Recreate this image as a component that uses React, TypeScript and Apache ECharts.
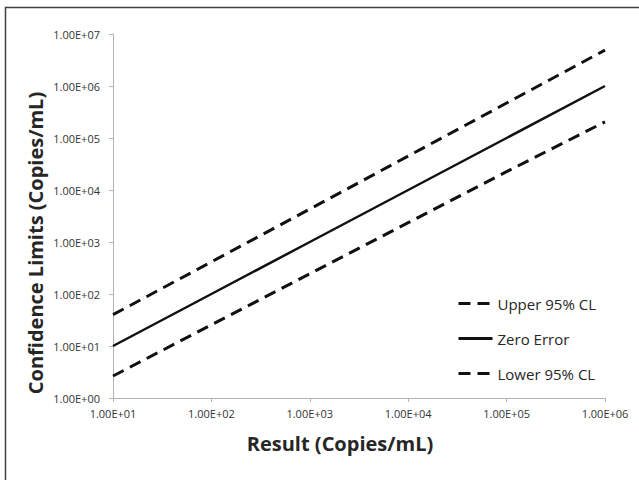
import React, { useEffect, useRef } from "react";
import * as echarts from "echarts";

const resultValues = [10, 100, 1000, 10000, 100000, 1000000];
const upperCL = [40, 415, 4300, 45000, 470000, 4900000];
const zeroError = [10, 100, 1000, 10000, 100000, 1000000];
const lowerCL = [2.65, 25.5, 245, 2350, 22500, 205000];
const seriesNames = ["Upper 95% CL", "Zero Error", "Lower 95% CL"];
const xTitle = "Result (Copies/mL)";
const yTitle = "Confidence Limits (Copies/mL)";

const FONT = "'Open Sans', 'Noto Sans', sans-serif";

function sci(v: number): string {
  const e = Math.round(Math.log10(v));
  const m = v / Math.pow(10, e);
  return m.toFixed(2) + "E" + (e >= 0 ? "+" : "-") + String(Math.abs(e)).padStart(2, "0");
}

function pairs(xs: number[], ys: number[]) {
  return xs.map((x, i) => [x, ys[i]]);
}

export default function App() {
  const ref = useRef<HTMLDivElement>(null);
  useEffect(() => {
    if (!ref.current) return;
    const chart = echarts.init(ref.current, undefined, { renderer: "svg" });
    const axisCommon = {
      axisLine: { show: true, lineStyle: { color: "#b3b3b3", width: 1 } },
      axisTick: { show: true, length: 4, lineStyle: { color: "#b3b3b3" } },
      splitLine: { show: false },
      minorTick: { show: false },
      axisLabel: {
        color: "#333",
        fontSize: 11,
        fontFamily: FONT,
        formatter: (v: number) => sci(v),
      },
    };
    chart.setOption({
      animation: false,
      backgroundColor: "#fff",
      grid: { left: 113, right: 34, top: 34, bottom: 82, containLabel: false },
      xAxis: {
        type: "log",
        logBase: 10,
        min: 10,
        max: 1000000,
        ...axisCommon,
        axisLabel: { ...axisCommon.axisLabel, margin: 10 },
      },
      yAxis: {
        type: "log",
        logBase: 10,
        min: 1,
        max: 10000000,
        ...axisCommon,
        axisLabel: { ...axisCommon.axisLabel, margin: 13 },
      },
      legend: {
        orient: "vertical",
        left: 457,
        top: 296,
        padding: 0,
        itemWidth: 34,
        itemHeight: 14,
        itemGap: 20,
        data: seriesNames,
        itemStyle: { opacity: 0 },
        lineStyle: { width: 3 },
        textStyle: { fontSize: 15, fontFamily: FONT, color: "#262626" },
      },
      series: [
        {
          name: seriesNames[0],
          type: "line",
          symbol: "none",
          data: pairs(resultValues, upperCL),
          lineStyle: { color: "#111", width: 3, type: [12, 7] },
          itemStyle: { color: "#111" },
        },
        {
          name: seriesNames[1],
          type: "line",
          symbol: "none",
          data: pairs(resultValues, zeroError),
          lineStyle: { color: "#111", width: 2.5, type: "solid" },
          itemStyle: { color: "#111" },
        },
        {
          name: seriesNames[2],
          type: "line",
          symbol: "none",
          data: pairs(resultValues, lowerCL),
          lineStyle: { color: "#111", width: 3, type: [12, 7] },
          itemStyle: { color: "#111" },
        },
      ],
      graphic: [
        {
          type: "rect",
          shape: { x: 5.5, y: 7.5, width: 700, height: 600 },
          style: { fill: "none", stroke: "#404040", lineWidth: 1.5 },
          silent: true,
        },
        {
          type: "text",
          x: 340,
          y: 443,
          style: {
            text: xTitle,
            font: `bold 20px ${FONT}`,
            fill: "#262626",
            textAlign: "center",
            textVerticalAlign: "middle",
          },
        },
        {
          type: "text",
          x: 35,
          y: 243,
          rotation: Math.PI / 2,
          style: {
            text: yTitle,
            font: `bold 20px ${FONT}`,
            fill: "#262626",
            textAlign: "center",
            textVerticalAlign: "middle",
          },
        },
      ],
    });
    return () => chart.dispose();
  }, []);
  return (
    <div
      ref={ref}
      style={{ position: "fixed", left: 0, top: 0, width: 639, height: 480 }}
    />
  );
}
